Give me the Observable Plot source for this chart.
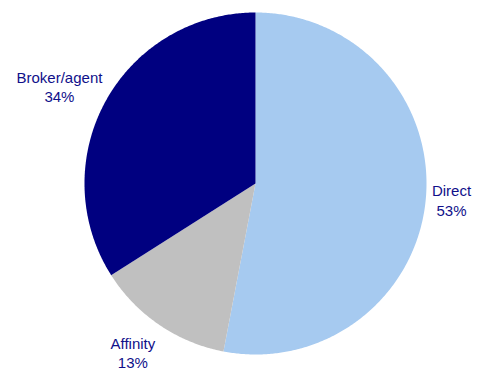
<!DOCTYPE html>
<html>
<head>
<meta charset="utf-8">
<script src="https://cdn.jsdelivr.net/npm/d3@7"></script>
<script src="https://cdn.jsdelivr.net/npm/@observablehq/plot@0.6"></script>
<style>
  html, body { margin: 0; padding: 0; background: #fff; }
  #chart svg { display: block; }
</style>
</head>
<body>
<div id="chart"></div>
<script>
// Data
const categories = ["Direct", "Affinity", "Broker/agent"];
const shares = [53, 13, 34];
const colors = ["#A6CAF0", "#C0C0C0", "#000080"];

// Label placement (radius relative to pie radius, small angle nudge in degrees)
const labelPlacement = {
  "Direct": {r: 1.15, da: -0.7},
  "Affinity": {r: 1.22, da: 1.8},
  "Broker/agent": {r: 1.28, da: -2.4}
};

const total = d3.sum(shares);
const toRad = Math.PI / 180;

// Build slice polygons from cumulative shares (clockwise from 12 o'clock)
const slicePoints = [];
const labels = [];
let cum = 0;
categories.forEach((name, i) => {
  const a0 = cum / total * 360;
  cum += shares[i];
  const a1 = cum / total * 360;
  slicePoints.push({name, x: 0, y: 0});
  const n = Math.max(2, Math.ceil((a1 - a0) / 0.5));
  for (let k = 0; k <= n; k++) {
    const a = (a0 + (a1 - a0) * k / n) * toRad;
    slicePoints.push({name, x: Math.sin(a), y: Math.cos(a)});
  }
  const p = labelPlacement[name];
  const am = ((a0 + a1) / 2 + p.da) * toRad;
  labels.push({name, text: `${name}\n${shares[i]}%`, x: p.r * Math.sin(am), y: p.r * Math.cos(am)});
});

const chart = Plot.plot({
  width: 480,
  height: 372,
  marginLeft: 84,
  marginRight: 54,
  marginTop: 12,
  marginBottom: 18,
  x: {domain: [-1, 1], axis: null},
  y: {domain: [-1, 1], axis: null},
  color: {domain: categories, range: colors},
  style: {fontFamily: "'Liberation Sans', Arial, sans-serif", background: "#fff"},
  marks: [
    Plot.line(slicePoints, {x: "x", y: "y", z: "name", fill: "name", stroke: null, curve: "linear-closed"}),
    Plot.text(labels, {x: "x", y: "y", text: "text", fill: "#10108a", fontSize: 15, lineHeight: 1.3, textAnchor: "middle"})
  ]
});
document.getElementById("chart").appendChild(chart);
</script>
</body>
</html>
